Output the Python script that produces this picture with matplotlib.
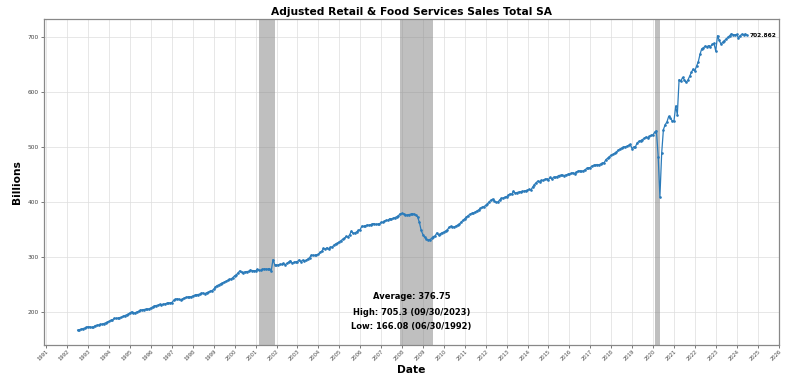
import matplotlib
matplotlib.use("Agg")
import matplotlib.pyplot as plt
import matplotlib.dates as mdates
import pandas as pd
import numpy as np

title = "Adjusted Retail & Food Services Sales Total SA"
start_date = "1992-06-30"

v1992 = [166.08, 167.0, 167.8, 168.7, 169.9, 171.3, 172.5]
v1993 = [172.0, 171.3, 171.6, 174.4, 175.0, 175.6, 176.6, 176.9, 178.1, 179.4, 180.7, 181.9]
v1994 = [184.0, 184.8, 187.5, 187.4, 187.8, 189.0, 189.3, 191.2, 192.6, 194.0, 195.2, 197.6]
v1995 = [199.5, 197.0, 197.8, 199.3, 200.5, 202.4, 203.0, 203.6, 204.2, 204.0, 205.1, 206.5]
v1996 = [208.5, 210.2, 210.9, 211.5, 213.0, 212.4, 213.2, 213.9, 214.8, 215.6, 215.8, 216.4]
v1997 = [220.5, 222.0, 223.2, 222.4, 221.5, 222.3, 224.6, 225.6, 226.3, 227.0, 226.8, 228.3]
v1998 = [229.5, 230.6, 230.9, 231.7, 233.5, 233.4, 232.6, 234.3, 234.9, 236.8, 238.0, 240.5]
v1999 = [245.0, 247.2, 248.6, 250.4, 252.0, 253.2, 255.0, 257.0, 258.4, 259.2, 261.8, 265.0]
v2000 = [267.0, 270.5, 274.0, 271.2, 270.8, 272.4, 272.6, 273.0, 275.3, 274.6, 274.4, 274.0]
v2001 = [276.5, 275.0, 274.8, 276.8, 277.6, 277.4, 277.0, 278.2, 273.8, 294.5, 285.5, 284.3]
v2002 = [284.8, 286.0, 285.7, 287.5, 285.3, 287.4, 290.1, 292.5, 288.2, 289.4, 290.5, 290.9]
v2003 = [294.0, 290.8, 293.4, 292.5, 292.9, 295.4, 298.0, 302.6, 302.4, 302.0, 303.2, 303.9]
v2004 = [307.8, 309.6, 314.8, 313.7, 316.2, 313.4, 317.0, 317.5, 320.9, 323.3, 324.0, 327.0]
v2005 = [329.0, 331.5, 333.0, 336.8, 335.5, 339.5, 346.5, 342.0, 343.0, 345.0, 347.5, 349.0]
v2006 = [355.5, 354.8, 356.0, 357.5, 357.0, 358.0, 359.5, 360.0, 358.5, 359.0, 359.5, 362.0]
v2007 = [362.5, 364.5, 366.0, 366.0, 369.0, 368.5, 369.5, 371.0, 372.5, 374.5, 378.0, 378.5]
v2008 = [377.5, 376.0, 375.5, 376.5, 377.0, 378.0, 377.0, 375.5, 372.0, 362.0, 348.0, 340.0]
v2009 = [335.0, 332.0, 330.0, 331.0, 333.0, 336.5, 337.5, 343.0, 339.0, 341.5, 343.5, 344.5]
v2010 = [346.5, 348.5, 353.0, 355.0, 354.0, 354.0, 355.5, 357.5, 359.5, 363.0, 366.0, 369.0]
v2011 = [372.0, 374.5, 377.0, 378.5, 379.5, 381.0, 383.0, 385.0, 387.5, 389.5, 391.0, 393.0]
v2012 = [396.0, 399.5, 402.5, 404.5, 401.5, 398.5, 399.0, 403.0, 406.0, 406.5, 408.0, 409.0]
v2013 = [412.0, 414.0, 413.5, 419.0, 415.5, 416.5, 417.5, 418.0, 418.5, 419.0, 420.0, 420.5]
v2014 = [422.5, 421.0, 426.5, 431.0, 434.5, 437.5, 436.5, 438.5, 438.5, 440.5, 441.5, 440.0]
v2015 = [444.0, 441.0, 444.5, 444.0, 445.5, 447.5, 448.0, 448.0, 447.5, 448.5, 449.5, 450.0]
v2016 = [451.5, 452.5, 451.0, 453.5, 455.5, 456.0, 455.0, 456.0, 458.0, 460.5, 461.5, 462.0]
v2017 = [465.0, 466.0, 466.5, 467.5, 467.0, 468.5, 470.0, 471.0, 476.5, 479.0, 482.0, 484.5]
v2018 = [486.0, 488.0, 490.0, 493.5, 495.5, 497.5, 499.0, 500.0, 500.5, 502.5, 504.0, 496.5]
v2019 = [499.5, 500.0, 507.0, 509.5, 511.0, 513.0, 515.0, 517.5, 516.5, 518.5, 520.5, 521.5]
v2020 = [526.5, 529.0, 482.0, 408.5, 488.0, 531.0, 540.0, 545.0, 555.0, 552.0, 547.0, 546.0]
v2021 = [574.0, 558.0, 622.0, 619.0, 626.0, 622.0, 617.0, 621.0, 628.0, 635.0, 641.0, 638.0]
v2022 = [647.0, 654.0, 668.0, 678.0, 680.0, 683.0, 682.0, 684.0, 682.0, 686.0, 688.0, 674.0]
v2023 = [702.0, 694.0, 687.0, 690.0, 693.0, 696.0, 699.0, 702.0, 705.3, 704.0, 703.5, 704.2]
v2024 = [698.0, 702.0, 704.5, 704.0, 704.8, 702.862]

values = (v1992 + v1993 + v1994 + v1995 + v1996 + v1997 + v1998 + v1999 + v2000 +
          v2001 + v2002 + v2003 + v2004 + v2005 + v2006 + v2007 + v2008 + v2009 +
          v2010 + v2011 + v2012 + v2013 + v2014 + v2015 + v2016 + v2017 + v2018 +
          v2019 + v2020 + v2021 + v2022 + v2023 + v2024)

recessions = [("2001-03-01", "2001-11-30"), ("2007-12-01", "2009-06-30"), ("2020-02-01", "2020-04-30")]
stats_lines = ["Average: 376.75", "High: 705.3 (09/30/2023)", "Low: 166.08 (06/30/1992)"]
last_label = "702.862"

dates = pd.date_range(start_date, periods=len(values), freq="ME")

fig = plt.figure(figsize=(8, 3.84), dpi=100)
ax = fig.add_axes([0.055, 0.1016, 0.919, 0.8489])

for s, e in recessions:
    ax.axvspan(pd.Timestamp(s), pd.Timestamp(e), color="gray", alpha=0.5, lw=0)

ax.plot(dates, values, color="#2b7bba", lw=0.9, marker="o", markersize=0.9, zorder=3)

ax.annotate(last_label, xy=(dates[-1], values[-1]), xytext=(2, 0), textcoords="offset points",
            fontsize=4.2, fontweight="bold", va="center", ha="left")

ys = [0.15, 0.10, 0.058]
for t, yy in zip(stats_lines, ys):
    ax.text(0.5, yy, t, transform=ax.transAxes, ha="center", va="center",
            fontsize=6.0, fontweight="bold")

ax.set_xlim(pd.Timestamp("1990-11-20"), pd.Timestamp("2026-01-12"))
ax.set_ylim(139.1, 732.3)
ax.xaxis.set_major_locator(mdates.YearLocator(1))
ax.xaxis.set_major_formatter(mdates.DateFormatter("%Y"))
ax.set_yticks([200, 300, 400, 500, 600, 700])
ax.tick_params(axis="x", labelsize=3.7, rotation=45, length=2, width=0.5, colors="#444444", pad=1)
ax.tick_params(axis="y", labelsize=4.2, length=2, width=0.5, colors="#444444", pad=1.5)
for lbl in ax.get_xticklabels():
    lbl.set_ha("right")
    lbl.set_rotation_mode("anchor")

ax.grid(True, color="#dddddd", lw=0.5)
ax.set_axisbelow(True)
for sp in ax.spines.values():
    sp.set_color("#888888")
    sp.set_linewidth(0.9)

ax.set_title(title, fontsize=7.7, fontweight="bold", pad=3)
ax.set_xlabel("Date", fontsize=7.7, fontweight="bold", labelpad=2)
ax.set_ylabel("Billions", fontsize=7.7, fontweight="bold", labelpad=4)

fig.savefig("out.png", dpi=100)
